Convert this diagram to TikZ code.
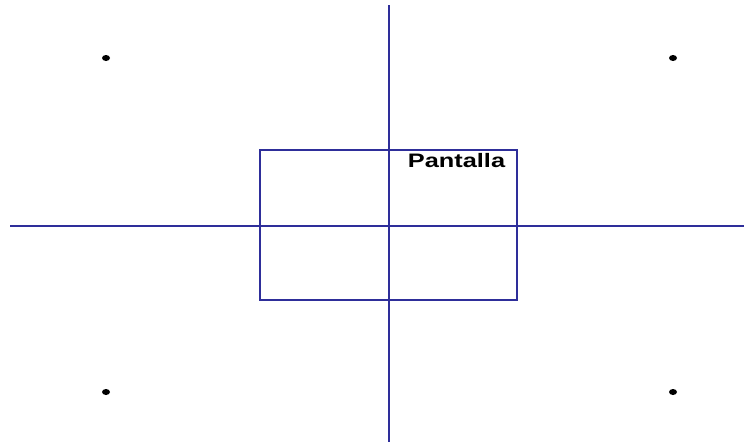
\documentclass[tikz,border=0pt]{standalone}
\usepackage{fontspec}
\setmainfont{Liberation Sans}
\definecolor{axisblue}{HTML}{2E2E9A}
\begin{document}
\begin{tikzpicture}[x=1pt,y=-1pt,
  axis/.style={draw=axisblue,line width=1.5pt},
  dot/.style={fill=black,ellipse},
  lbl/.style={font=\fontsize{19.5}{22}\selectfont\bfseries,inner sep=0pt,xscale=1.3}]
\useasboundingbox[fill=white] (0,0) rectangle (744,442);
\coordinate (vt) at (389,5);
\coordinate (vb) at (389,442);
\coordinate (hl) at (10,226);
\coordinate (hr) at (744,226);
\draw[axis] (vt) -- (vb);
\draw[axis] (hl) -- (hr);
\draw[axis] (260,150) rectangle (517,300);
\node[lbl] (pantalla) at (456.5,161) {Pantalla};
\fill (106,58) ellipse[x radius=4,y radius=3];
\fill (673,58) ellipse[x radius=4,y radius=3];
\fill (106,392) ellipse[x radius=4,y radius=3];
\fill (673,392) ellipse[x radius=4,y radius=3];
\end{tikzpicture}
\end{document}
